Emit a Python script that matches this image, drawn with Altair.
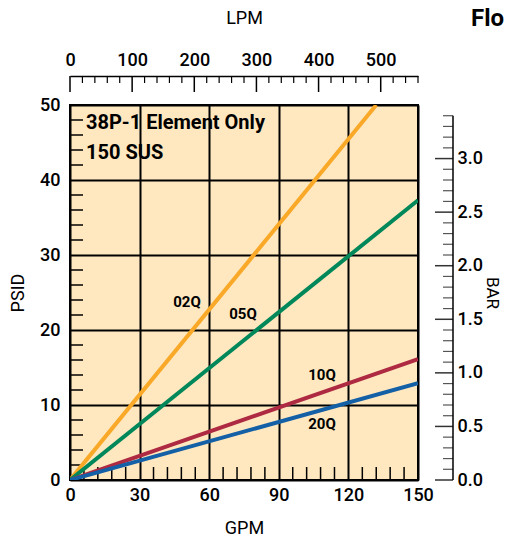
import altair as alt
import pandas as pd

# ---- data ----
series = ["02Q", "05Q", "10Q", "20Q"]
gpm_end = [132, 150, 150, 150]
psid_end = [50, 37.3, 16.1, 12.9]
colors = ["#F9A827", "#00875A", "#AE2A42", "#1360A6"]

gpm_ticks = [0, 30, 60, 90, 120, 150]
psid_ticks = [0, 10, 20, 30, 40, 50]
lpm_labels = [0, 100, 200, 300, 400, 500]
bar_labels = [0.0, 0.5, 1.0, 1.5, 2.0, 2.5, 3.0]

gpm_minor = [v for v in range(0, 151, 6) if v % 30]
psid_minor = [v for v in range(0, 51, 2) if v % 10]
lpm_minor = [v for v in range(0, 561, 20) if v % 100]
bar_minor = [i / 10 for i in range(0, 35) if i % 5]

W, H = 348, 375
BG = "#FFE8BF"
FONT = "Roboto"

rows = []
for s, g, p in zip(series, gpm_end, psid_end):
    rows.append({"series": s, "gpm": 0, "psid": 0})
    rows.append({"series": s, "gpm": g, "psid": p})
df = pd.DataFrame(rows)

x_enc = alt.X("gpm:Q", scale=alt.Scale(domain=[0, 150], nice=False),
              axis=alt.Axis(values=gpm_ticks, title="GPM", grid=True, ticks=False,
                            domain=False, labelPadding=6, titlePadding=15,
                            labelFlush=False, gridColor="black", gridWidth=2,
                            gridOpacity=1))
y_enc = alt.Y("psid:Q", scale=alt.Scale(domain=[0, 50], nice=False),
              axis=alt.Axis(values=psid_ticks, title="PSID", grid=True, ticks=False,
                            domain=False, labelPadding=10, titlePadding=12,
                            gridColor="black", gridWidth=2, gridOpacity=1))

lines = alt.Chart(df).mark_line(strokeWidth=4, clip=True).encode(
    x=x_enc, y=y_enc,
    color=alt.Color("series:N", scale=alt.Scale(domain=series, range=colors), legend=None),
)

bottom_minor = alt.Chart(pd.DataFrame({"gpm": gpm_minor})).mark_rule(
    color="black", strokeWidth=1.5).encode(x=x_enc, y=alt.value(H), y2=alt.value(H - 13))
left_minor = alt.Chart(pd.DataFrame({"psid": psid_minor})).mark_rule(
    color="black", strokeWidth=1.5).encode(y=y_enc, x=alt.value(0), x2=alt.value(13))

one = pd.DataFrame({"a": [0]})


def label(txt, x, y, size=15, align="center", weight="bold"):
    return alt.Chart(one).mark_text(text=txt, font=FONT, fontSize=size, fontWeight=weight,
                                    align=align, baseline="middle", color="black").encode(
        x=alt.value(x), y=alt.value(y))


texts = [
    label("38P-1 Element Only", 16, 18, size=20, align="left"),
    label("150 SUS", 16, 48, size=20, align="left"),
    label("02Q", 117, 197),
    label("05Q", 173, 209),
    label("10Q", 252, 270),
    label("20Q", 252, 319),
    label("Flow", 401, -86, size=24, align="left"),
]

main = alt.layer(bottom_minor, left_minor, lines, *texts)

# ---- top LPM axis ----
lpm_x = alt.X("lpm:Q", scale=alt.Scale(domain=[0, 560], nice=False),
              axis=alt.Axis(orient="top", values=lpm_labels, title="LPM", offset=29,
                            ticks=False, tickSize=0, grid=False, domain=True,
                            domainColor="black", domainWidth=1.5, labelPadding=7,
                            titlePadding=24, labelFlush=False))
lpm_major = alt.Chart(pd.DataFrame({"lpm": lpm_labels})).mark_rule(
    color="black", strokeWidth=1.5).encode(x=lpm_x, y=alt.value(-29), y2=alt.value(-13))
lpm_min = alt.Chart(pd.DataFrame({"lpm": lpm_minor})).mark_rule(
    color="black", strokeWidth=1.2).encode(x=lpm_x, y=alt.value(-29), y2=alt.value(-22))
top_layer = alt.layer(lpm_major, lpm_min)

# ---- right BAR axis ----
bar_y = alt.Y("bar:Q", scale=alt.Scale(domain=[0, 3.5], nice=False),
              axis=alt.Axis(orient="right", values=bar_labels, format=".1f", title="BAR",
                            offset=35, ticks=False, tickSize=0, grid=False, domain=False,
                            labelPadding=4, titlePadding=0, titleFontSize=17))
bar_major = alt.Chart(pd.DataFrame({"bar": bar_labels})).mark_rule(
    color="#333333", strokeWidth=1.5).encode(y=bar_y, x=alt.value(W + 17), x2=alt.value(W + 35))
bar_min = alt.Chart(pd.DataFrame({"bar": bar_minor})).mark_rule(
    color="#555555", strokeWidth=1.2).encode(y=bar_y, x=alt.value(W + 25), x2=alt.value(W + 35))
bar_line = alt.Chart(one).mark_rule(color="black", strokeWidth=1.5).encode(
    y=alt.datum(0), y2=alt.datum(3.4), x=alt.value(W + 35))
right_layer = alt.layer(bar_major, bar_min, bar_line)

chart = alt.layer(main, top_layer, right_layer).resolve_scale(
    x="independent", y="independent"
).properties(
    width=W, height=H,
    autosize=alt.AutoSizeParams(type="none"),
    padding={"left": 62, "top": 97, "right": 86, "bottom": 58},
    background="white",
).configure_view(
    fill=BG, stroke="black", strokeWidth=2
).configure_axis(
    labelFont=FONT, labelFontSize=18, labelColor="black", labelFontWeight=500,
    titleFont=FONT, titleFontSize=18, titleFontWeight="normal", titleColor="black",
)

chart.save("out.html", embed_options={"renderer": "svg", "actions": False})
